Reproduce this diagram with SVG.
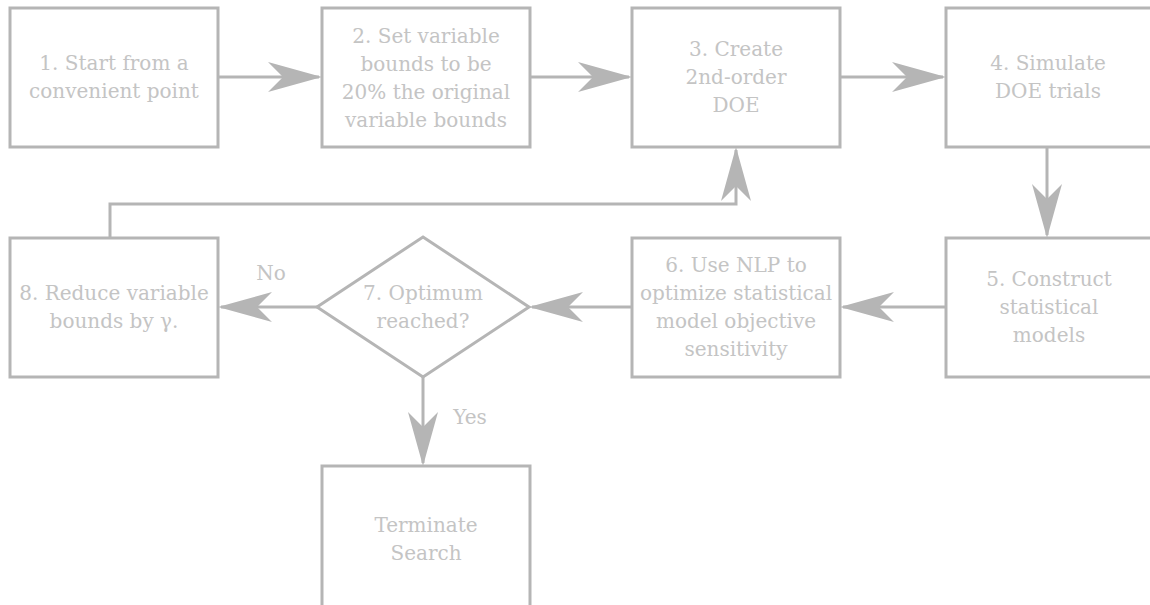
<svg xmlns="http://www.w3.org/2000/svg" width="1150" height="605" viewBox="0 0 1150 605">
<defs>
<style>
.box{fill:#ffffff;stroke:#b5b5b5;stroke-width:3}
.t{font-family:'DejaVu Serif','Liberation Serif','Noto Serif',Times,serif;font-size:20px;fill:#c4c4c4;text-anchor:middle}
.c{fill:none;stroke:#b5b5b5;stroke-width:3}
</style>
<marker id="ah" viewBox="-56 -17 60 34" markerWidth="60" markerHeight="34" refX="-3" refY="0" orient="auto" markerUnits="userSpaceOnUse">
<path d="M0,0 L-54,-15 L-39,0 L-54,15 Z" fill="#b5b5b5"/>
</marker>
</defs>
<rect width="1150" height="605" fill="#ffffff"/>
<g id="connectors">
<line class="c" x1="218" y1="77" x2="319" y2="77" marker-end="url(#ah)"/>
<line class="c" x1="530" y1="77" x2="629" y2="77" marker-end="url(#ah)"/>
<line class="c" x1="840" y1="77" x2="943" y2="77" marker-end="url(#ah)"/>
<line class="c" x1="1047" y1="147" x2="1047" y2="235" marker-end="url(#ah)"/>
<line class="c" x1="946" y1="307" x2="843" y2="307" marker-end="url(#ah)"/>
<line class="c" x1="632" y1="307" x2="532" y2="307" marker-end="url(#ah)"/>
<line class="c" x1="317" y1="307" x2="221" y2="307" marker-end="url(#ah)"/>
<line class="c" x1="423" y1="377" x2="423" y2="463" marker-end="url(#ah)"/>
<polyline class="c" points="110,238 110,204 736,204 736,150" marker-end="url(#ah)"/>
<text class="t" x="271" y="280">No</text>
<text class="t" x="470" y="424">Yes</text>
</g>
<g id="n1">
<rect class="box" x="10" y="8" width="208" height="139"/>
<text class="t" x="114" y="70">1. Start from a</text>
<text class="t" x="114" y="98">convenient point</text>
</g>
<g id="n2">
<rect class="box" x="322" y="8" width="208" height="139"/>
<text class="t" x="426" y="43">2. Set variable</text>
<text class="t" x="426" y="71">bounds to be</text>
<text class="t" x="426" y="99">20% the original</text>
<text class="t" x="426" y="127">variable bounds</text>
</g>
<g id="n3">
<rect class="box" x="632" y="8" width="208" height="139"/>
<text class="t" x="736" y="56">3. Create</text>
<text class="t" x="736" y="84">2nd-order</text>
<text class="t" x="736" y="112">DOE</text>
</g>
<g id="n4">
<rect class="box" x="946" y="8" width="208" height="139"/>
<text class="t" x="1048" y="70">4. Simulate</text>
<text class="t" x="1048" y="98">DOE trials</text>
</g>
<g id="n5">
<rect class="box" x="946" y="238" width="208" height="139"/>
<text class="t" x="1049" y="286">5. Construct</text>
<text class="t" x="1049" y="314">statistical</text>
<text class="t" x="1049" y="342">models</text>
</g>
<g id="n6">
<rect class="box" x="632" y="238" width="208" height="139"/>
<text class="t" x="736" y="272">6. Use NLP to</text>
<text class="t" x="736" y="300">optimize statistical</text>
<text class="t" x="736" y="328">model objective</text>
<text class="t" x="736" y="356">sensitivity</text>
</g>
<g id="n7">
<polygon class="box" points="423,237 529,307 423,377 317,307"/>
<text class="t" x="423" y="300">7. Optimum</text>
<text class="t" x="423" y="328">reached?</text>
</g>
<g id="n8">
<rect class="box" x="10" y="238" width="208" height="139"/>
<text class="t" x="114" y="300">8. Reduce variable</text>
<text class="t" x="114" y="328">bounds by γ.</text>
</g>
<g id="n9">
<rect class="box" x="322" y="466" width="208" height="145"/>
<text class="t" x="426" y="532">Terminate</text>
<text class="t" x="426" y="560">Search</text>
</g>
</svg>
